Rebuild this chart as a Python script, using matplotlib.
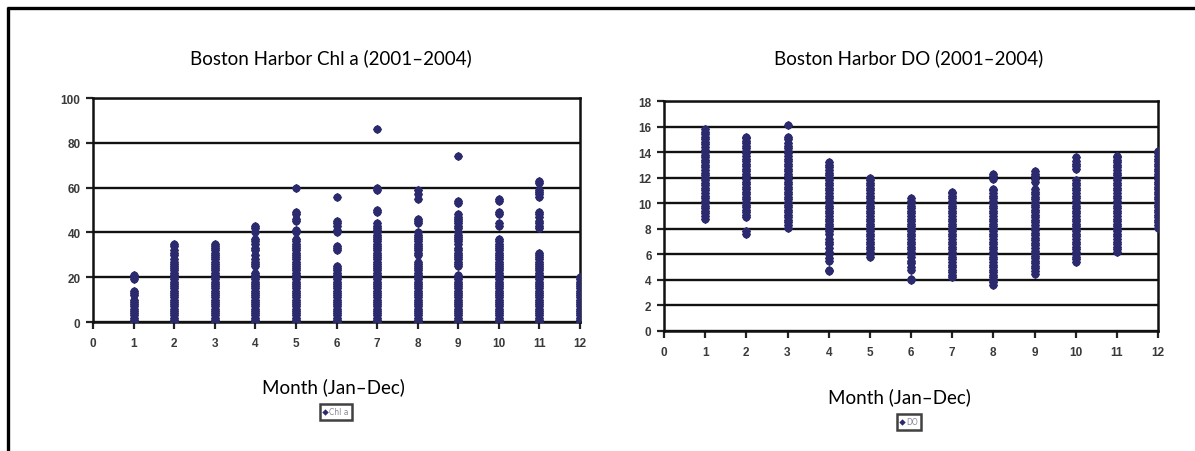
import matplotlib
matplotlib.use("Agg")
import matplotlib.pyplot as plt
from matplotlib.lines import Line2D

# ---------------- data ----------------
months = [1, 2, 3, 4, 5, 6, 7, 8, 9, 10, 11, 12]

chl_m1 = [0, 1, 2, 3, 4, 5, 6, 7, 8, 9, 10, 12, 13, 14, 19, 20, 21]
chl_m2 = [0, 1, 2, 3, 4, 5, 6, 7, 8, 9, 10, 11, 12, 13, 14, 15, 16, 17, 18, 19, 20,
          21, 22, 23, 24, 25, 26, 27, 28, 30, 31, 32, 34, 35]
chl_m3 = [0, 1, 2, 3, 4, 5, 6, 7, 8, 9, 10, 11, 12, 13, 14, 15, 16, 17, 18, 19, 20,
          21, 22, 23, 24, 25, 26, 27, 28, 29, 30, 31, 32, 33, 34, 35]
chl_m4 = [0, 1, 2, 3, 4, 5, 6, 7, 8, 9, 10, 11, 12, 13, 14, 15, 16, 17, 18, 19, 20,
          21, 22, 25, 26, 27, 28, 30, 32, 33, 35, 36, 37, 40, 42, 43]
chl_m5 = [0, 1, 2, 3, 4, 5, 6, 7, 8, 9, 10, 11, 12, 13, 14, 15, 16, 17, 18, 19, 20,
          21, 22, 23, 24, 25, 26, 27, 28, 29, 30, 31, 32, 33, 34, 35, 36, 37,
          40, 41, 45, 46, 48, 49, 60]
chl_m6 = [0, 1, 2, 3, 4, 5, 6, 7, 8, 9, 10, 11, 12, 13, 14, 15, 16, 17, 18, 19, 20,
          21, 22, 23, 24, 25, 32, 33, 34, 40, 41, 43, 44, 45, 56]
chl_m7 = [0, 1, 2, 3, 4, 5, 6, 7, 8, 9, 10, 11, 12, 13, 14, 15, 16, 17, 18, 19, 20,
          21, 22, 23, 24, 25, 26, 27, 28, 29, 30, 31, 32, 33, 34, 35, 36, 37, 38,
          39, 40, 41, 42, 43, 44, 49, 50, 59, 60, 86]
chl_m8 = [0, 1, 2, 3, 4, 5, 6, 7, 8, 9, 10, 11, 12, 13, 14, 15, 16, 17, 18, 19, 20,
          21, 22, 23, 24, 25, 26, 27, 30, 31, 32, 33, 34, 35, 36, 37, 38, 39, 40,
          44, 45, 46, 55, 57, 59]
chl_m9 = [0, 1, 2, 3, 4, 5, 6, 7, 8, 9, 10, 11, 12, 13, 14, 15, 16, 17, 18, 19, 20,
          21, 25, 26, 27, 28, 29, 30, 31, 32, 33, 35, 36, 37, 38, 39, 40, 42, 43,
          44, 45, 46, 47, 48, 53, 54, 74]
chl_m10 = [0, 1, 2, 3, 4, 5, 6, 7, 8, 9, 10, 11, 12, 13, 14, 15, 16, 17, 18, 19, 20,
           21, 22, 23, 24, 25, 26, 27, 28, 29, 30, 31, 32, 33, 34, 35, 36, 37,
           43, 44, 48, 49, 54, 55]
chl_m11 = [0, 1, 2, 3, 4, 5, 6, 7, 8, 9, 10, 11, 12, 13, 14, 15, 16, 17, 18, 19, 20,
           21, 22, 23, 24, 25, 26, 27, 28, 29, 30, 31, 42, 43, 44, 45, 47, 48, 49,
           56, 57, 58, 59, 62, 63]
chl_m12 = [0, 1, 2, 3, 4, 5, 6, 7, 8, 9, 10, 11, 12, 13, 14, 15, 16, 17, 18, 19, 20]

do_m1 = [8.8, 9.0, 9.2, 9.4, 9.6, 9.8, 10.0, 10.2, 10.4, 10.6, 10.8, 11.0, 11.2,
         11.4, 11.6, 11.8, 12.0, 12.2, 12.4, 12.6, 12.8, 13.0, 13.2, 13.4, 13.6,
         13.8, 14.0, 14.2, 14.4, 14.6, 14.8, 15.0, 15.2, 15.4, 15.6, 15.8]
do_m2 = [7.6, 7.8, 8.9, 9.1, 9.3, 9.5, 9.7, 9.9, 10.1, 10.3, 10.5, 10.7, 10.9, 11.1,
         11.3, 11.5, 11.7, 11.9, 12.1, 12.3, 12.5, 12.7, 12.9, 13.1, 13.3, 13.5,
         13.7, 13.9, 14.1, 14.3, 14.5, 14.7, 14.9, 15.1, 15.2]
do_m3 = [8.1, 8.3, 8.5, 8.7, 8.9, 9.1, 9.3, 9.5, 9.7, 9.9, 10.1, 10.3, 10.5, 10.7,
         10.9, 11.1, 11.3, 11.5, 11.7, 11.9, 12.1, 12.3, 12.5, 12.7, 12.9, 13.1,
         13.3, 13.5, 13.7, 13.9, 14.1, 14.3, 14.5, 14.7, 15.0, 15.2, 16.1]
do_m4 = [4.7, 4.8, 5.5, 5.7, 6.0, 6.2, 6.5, 6.8, 7.0, 7.2, 7.6, 7.8, 8.0, 8.2, 8.4,
         8.6, 8.8, 9.0, 9.2, 9.4, 9.6, 9.8, 10.0, 10.2, 10.4, 10.6, 10.8, 11.0,
         11.2, 11.4, 11.6, 11.8, 12.0, 12.2, 12.4, 12.6, 12.8, 13.0, 13.2]
do_m5 = [5.8, 6.0, 6.2, 6.4, 6.6, 6.8, 7.0, 7.2, 7.4, 7.6, 7.8, 8.0, 8.2, 8.4, 8.6,
         8.8, 9.0, 9.2, 9.4, 9.6, 9.8, 10.0, 10.2, 10.4, 10.6, 10.8, 11.0, 11.2,
         11.4, 11.6, 11.8, 12.0]
do_m6 = [4.0, 4.1, 4.8, 5.0, 5.3, 5.5, 5.8, 6.0, 6.2, 6.4, 6.6, 6.8, 7.0, 7.2, 7.4,
         7.6, 7.8, 8.0, 8.2, 8.4, 8.6, 8.8, 9.0, 9.2, 9.4, 9.6, 9.8, 10.0, 10.2, 10.4]
do_m7 = [4.2, 4.4, 4.6, 4.8, 5.0, 5.2, 5.4, 5.6, 5.8, 6.0, 6.2, 6.4, 6.6, 6.8, 7.0,
         7.2, 7.4, 7.6, 7.8, 8.0, 8.2, 8.4, 8.6, 8.8, 9.0, 9.2, 9.4, 9.6, 9.8, 10.0,
         10.2, 10.4, 10.6, 10.8, 10.9]
do_m8 = [3.6, 3.8, 4.0, 4.2, 4.4, 4.6, 4.8, 5.0, 5.2, 5.4, 5.6, 5.8, 6.0, 6.2, 6.4,
         6.6, 6.8, 7.0, 7.2, 7.4, 7.6, 7.8, 8.0, 8.2, 8.4, 8.6, 8.8, 9.0, 9.2, 9.4,
         9.6, 9.8, 10.0, 10.2, 10.4, 10.6, 10.8, 11.0, 11.1, 11.9, 12.1, 12.3]
do_m9 = [4.5, 4.7, 4.9, 5.1, 5.3, 5.5, 5.7, 5.9, 6.1, 6.3, 6.5, 6.7, 6.9, 7.1, 7.3,
         7.5, 7.7, 7.9, 8.1, 8.3, 8.5, 8.7, 8.9, 9.1, 9.3, 9.5, 9.7, 9.9, 10.1,
         10.3, 10.5, 10.7, 10.9, 11.1, 11.7, 11.9, 12.1, 12.3, 12.5]
do_m10 = [5.4, 5.6, 5.8, 6.0, 6.2, 6.4, 6.6, 6.8, 7.0, 7.2, 7.4, 7.6, 7.8, 8.0, 8.2,
          8.4, 8.6, 8.8, 9.0, 9.2, 9.4, 9.6, 9.8, 10.0, 10.2, 10.4, 10.6, 10.8,
          11.0, 11.2, 11.4, 11.6, 11.8, 12.7, 12.9, 13.1, 13.3, 13.6]
do_m11 = [6.2, 6.4, 6.6, 6.8, 7.0, 7.2, 7.4, 7.6, 7.8, 8.0, 8.2, 8.4, 8.6, 8.8, 9.0,
          9.2, 9.4, 9.6, 9.8, 10.0, 10.2, 10.4, 10.6, 10.8, 11.0, 11.2, 11.4, 11.6,
          11.8, 12.0, 12.2, 12.4, 12.6, 12.8, 13.0, 13.2, 13.4, 13.6, 13.7]
do_m12 = [8.1, 8.3, 8.5, 8.7, 8.9, 9.1, 9.3, 9.5, 9.7, 9.9, 10.1, 10.3, 10.5, 10.7,
          10.9, 11.1, 11.3, 11.5, 11.7, 11.9, 12.1, 12.3, 12.5, 12.7, 12.9, 13.1,
          13.3, 13.5, 13.7, 13.9, 14.1]

chl_by_month = [chl_m1, chl_m2, chl_m3, chl_m4, chl_m5, chl_m6, chl_m7, chl_m8,
                chl_m9, chl_m10, chl_m11, chl_m12]
do_by_month = [do_m1, do_m2, do_m3, do_m4, do_m5, do_m6, do_m7, do_m8, do_m9,
               do_m10, do_m11, do_m12]

chl_title = "Boston Harbor Chl a (2001\u20132004)"
do_title = "Boston Harbor DO (2001\u20132004)"
xlabel_text = "Month (Jan\u2013Dec)"
chl_legend = "Chl a"
do_legend = "DO"
chl_yticks = [0, 20, 40, 60, 80, 100]
do_yticks = [0, 2, 4, 6, 8, 10, 12, 14, 16, 18]
xticks = [0, 1, 2, 3, 4, 5, 6, 7, 8, 9, 10, 11, 12]

# ---------------- style ----------------
NAVY = "#2b2a6e"
TITLE_FONT = ["Lato", "DejaVu Sans"]
TICK_FONT = ["Liberation Sans", "DejaVu Sans"]

fig = plt.figure(figsize=(11.95, 4.52), dpi=100)
fig.patch.set_facecolor("white")

# outer frame lines (top and left)
fig.add_artist(Line2D([7 / 1195, 1.0], [1 - 9 / 452, 1 - 9 / 452],
                      transform=fig.transFigure, color="black", lw=2.4,
                      solid_capstyle="butt"))
fig.add_artist(Line2D([8 / 1195, 8 / 1195], [0, 1 - 8 / 452],
                      transform=fig.transFigure, color="black", lw=2.4,
                      solid_capstyle="butt"))


def make_panel(rect, data, ymax, yticks, title, leg_label, title_xy, xlabel_xy,
               legend_xy):
    ax = fig.add_axes(rect)
    for m, vals in zip(months, data):
        ax.scatter([m] * len(vals), vals, marker="o", s=34, color=NAVY,
                   linewidths=0, zorder=3)
        ax.scatter([m] * len(vals), vals, marker="D", s=22, color=NAVY,
                   linewidths=0, zorder=3,
                   label=leg_label if m == 1 else None)
    ax.set_xlim(0, 12)
    ax.set_ylim(0, ymax)
    ax.set_xticks(xticks)
    ax.set_yticks(yticks)
    ax.set_xticklabels([str(t) for t in xticks], fontfamily=TICK_FONT,
                       fontsize=8.5, color="#3a3a3a", fontweight="bold")
    ax.set_yticklabels([str(t) for t in yticks], fontfamily=TICK_FONT,
                       fontsize=8.5, color="#3a3a3a", fontweight="bold")
    ax.tick_params(axis="x", direction="out", length=5, width=1.6, pad=6,
                   color="#222222")
    ax.tick_params(axis="y", direction="out", length=5, width=1.6, pad=4,
                   color="#222222")
    ax.yaxis.grid(True, color="#111111", lw=1.7)
    ax.set_axisbelow(True)
    for sp in ax.spines.values():
        sp.set_linewidth(1.8)
        sp.set_color("#111111")
    fig.text(title_xy[0] / 1195, 1 - title_xy[1] / 452, title,
             ha="center", va="center", fontsize=13.5, fontfamily=TITLE_FONT)
    fig.text(xlabel_xy[0] / 1195, 1 - xlabel_xy[1] / 452, xlabel_text,
             ha="center", va="center", fontsize=13.5, fontfamily=TITLE_FONT)
    leg = ax.legend(loc="center", bbox_to_anchor=(legend_xy[0] / 1195,
                                                 1 - legend_xy[1] / 452),
                    bbox_transform=fig.transFigure, fontsize=5.5,
                    markerscale=0.7, handlelength=0.6, handletextpad=0.2,
                    borderpad=0.45, frameon=True, fancybox=False)
    leg.get_frame().set_edgecolor("#111111")
    leg.get_frame().set_linewidth(1.8)
    for t in leg.get_texts():
        t.set_color("#888899")
    return ax


make_panel([93 / 1195, 129 / 452, 487 / 1195, 224 / 452], chl_by_month, 100,
           chl_yticks, chl_title, chl_legend, (331, 58), (333, 387), (336, 413))
make_panel([664 / 1195, 120 / 452, 494 / 1195, 230 / 452], do_by_month, 18,
           do_yticks, do_title, do_legend, (909, 58), (899, 397), (909, 423))

fig.savefig("out.png", dpi=100, facecolor="white")
